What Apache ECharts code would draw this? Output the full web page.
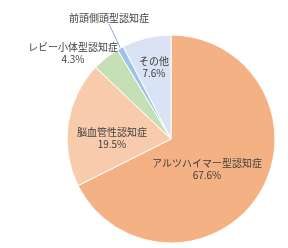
<!DOCTYPE html>
<html>
<head>
<meta charset="utf-8">
<script src="https://cdn.jsdelivr.net/npm/echarts@6/dist/echarts.min.js"></script>
<style>
html,body{margin:0;padding:0;background:#fff;}
#main{width:288px;height:248px;}
</style>
</head>
<body>
<div id="main"></div>
<script>
var categories = ['アルツハイマー型認知症', '脳血管性認知症', 'レビー小体型認知症', '前頭側頭型認知症', 'その他'];
var values = [67.6, 19.5, 4.3, 1.0, 7.6];
var showPercent = [true, true, true, false, true];
var colors = ['#F4B183', '#F8CBAD', '#C5E0B4', '#9DC3E6', '#DAE3F3'];
var labelPos = [[207, 169], [112, 138], [73, 53], [109, 18], [154, 67]];
var outsideLabel = [false, false, true, true, false];

var chart = echarts.init(document.getElementById('main'), null, {renderer: 'canvas'});
var data = categories.map(function (name, i) {
  return {
    name: name,
    value: values[i],
    itemStyle: {color: colors[i]},
    label: {
      position: outsideLabel[i] ? 'outside' : 'inside',
      formatter: showPercent[i] ? '{b}\n{c}%' : '{b}'
    },
    labelLine: {show: outsideLabel[i]}
  };
});
chart.setOption({
  animation: false,
  series: [{
    type: 'pie',
    center: [171, 139],
    radius: 104,
    startAngle: 90,
    clockwise: true,
    avoidLabelOverlap: false,
    itemStyle: {borderColor: '#fff', borderWidth: 1},
    label: {
      show: true,
      color: '#404040',
      fontSize: 10,
      lineHeight: 12,
      fontFamily: 'Noto Sans CJK JP',
      align: 'center'
    },
    labelLine: {
      length: 8,
      length2: 0,
      lineStyle: {color: '#8FAADC', width: 1}
    },
    labelLayout: function (params) {
      var p = labelPos[params.dataIndex];
      return {x: p[0], y: p[1], align: 'center', verticalAlign: 'middle'};
    },
    data: data
  }]
});
</script>
</body>
</html>
